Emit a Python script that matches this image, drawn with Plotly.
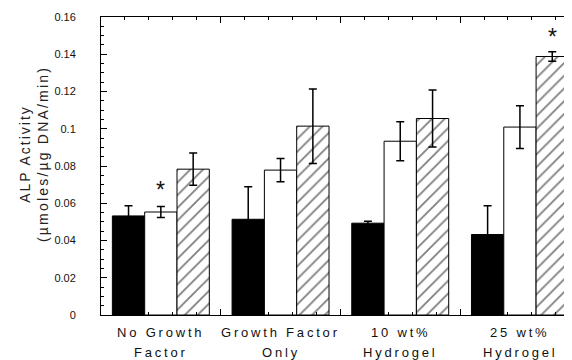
import plotly.graph_objects as go

# ---- data ----
categories = ["No Growth Factor", "Growth Factor Only", "10 wt% Hydrogel", "25 wt% Hydrogel"]
label_line1 = ["No Growth", "Growth Factor", "10 wt%", "25 wt%"]
label_line2 = ["Factor", "Only", "Hydrogel", "Hydrogel"]

black_vals = [0.0532, 0.0514, 0.0493, 0.0432]
black_err = [0.0054, 0.0175, 0.0011, 0.0154]
white_vals = [0.0553, 0.0778, 0.0933, 0.1009]
white_err = [0.0030, 0.0062, 0.0105, 0.0115]
hatch_vals = [0.0783, 0.1014, 0.1055, 0.1388]
hatch_err = [0.0087, 0.0200, 0.0153, 0.0025]

# significance markers: (series index, category index, y value)
sig_series = [1, 2]
sig_cat = [0, 3]
sig_y = [0.0693, 0.1515]

y_title_line1 = "ALP Activity"
y_title_line2 = "(µmoles/µg DNA/min)"

# ---- styling ----
FONT = "Liberation Sans, Arial, sans-serif"
TXT = "#111111"
BARGAP = 0.19
XRANGE = [-0.5, 3.435]

fig = go.Figure()

err_style = dict(type="data", color="black", thickness=1.5, width=4, visible=True)

fig.add_trace(go.Bar(
    x=categories, y=black_vals,
    error_y=dict(array=black_err, **err_style),
    marker=dict(color="black", line=dict(color="black", width=1)),
))
fig.add_trace(go.Bar(
    x=categories, y=white_vals,
    error_y=dict(array=white_err, **err_style),
    marker=dict(color="white", line=dict(color="black", width=1)),
))
fig.add_trace(go.Bar(
    x=categories, y=hatch_vals,
    error_y=dict(array=hatch_err, **err_style),
    marker=dict(color="white", line=dict(color="black", width=1),
                pattern=dict(shape="/", size=9, solidity=0.2,
                             fgcolor="black", bgcolor="white")),
))
# dummy trace so the overlay tick axis exists
fig.add_trace(go.Scatter(x=[], y=[], xaxis="x2", yaxis="y", showlegend=False))

annotations = []
# category labels (two lines each)
for i, cat in enumerate(categories):
    for line, shift in ((label_line1[i], -17), (label_line2[i], -37)):
        annotations.append(dict(
            x=i, xref="x", y=0, yref="paper", yanchor="middle", yshift=shift,
            xanchor="center", showarrow=False,
            text="<span style='letter-spacing:2.8px'>%s</span>" % line,
            font=dict(family=FONT, size=13, color=TXT)))

# y-axis title
annotations.append(dict(
    x=-0.1423, xref="paper", y=0.54, yref="paper", textangle=-90,
    xanchor="center", yanchor="middle", showarrow=False,
    text="<span style='letter-spacing:2px'>%s</span><br><span style='letter-spacing:2.2px'>%s</span>"
         % (y_title_line1, y_title_line2),
    font=dict(family=FONT, size=14, color="#222222")))

# asterisks
bar_w = (1 - BARGAP) / 3
for s, c, yv in zip(sig_series, sig_cat, sig_y):
    annotations.append(dict(
        x=c + (s - 1) * bar_w, xref="x", y=yv, yref="y",
        xanchor="center", yanchor="middle", showarrow=False, yshift=-4,
        text="*", font=dict(family=FONT, size=23, color="#111111")))

# page body has an 8px default margin, so the figure is offset by 8px
fig.update_layout(
    width=564, height=352,
    margin=dict(l=93, r=0, t=9, b=45),
    paper_bgcolor="white", plot_bgcolor="white",
    barmode="group", bargap=BARGAP, bargroupgap=0,
    showlegend=False,
    font=dict(family=FONT, color=TXT),
    xaxis=dict(range=XRANGE, showticklabels=False, ticks="", showgrid=False,
               zeroline=False, showline=False, automargin=False),
    xaxis2=dict(overlaying="x", anchor="y", side="bottom", range=XRANGE,
                tickmode="linear", tick0=-0.5, dtick=1,
                ticks="inside", ticklen=6, tickwidth=1, tickcolor="black",
                minor=dict(tick0=-0.5, dtick=0.2, ticks="inside", ticklen=3,
                           tickwidth=1, tickcolor="black"),
                showline=True, linecolor="black", linewidth=1, mirror="allticks",
                showticklabels=False, showgrid=False, zeroline=False,
                automargin=False),
    yaxis=dict(range=[0, 0.16], tickmode="linear", tick0=0, dtick=0.02,
               ticks="inside", ticklen=6, tickwidth=1, tickcolor="black",
               minor=dict(dtick=0.005, ticks="inside", ticklen=3,
                          tickwidth=1, tickcolor="black"),
               showline=True, linecolor="black", linewidth=1, mirror=False,
               showgrid=False, zeroline=False, ticklabelstandoff=22,
               automargin=False,
               tickfont=dict(family=FONT, size=11, color=TXT)),
    annotations=annotations,
)

fig.write_html("out.html")
